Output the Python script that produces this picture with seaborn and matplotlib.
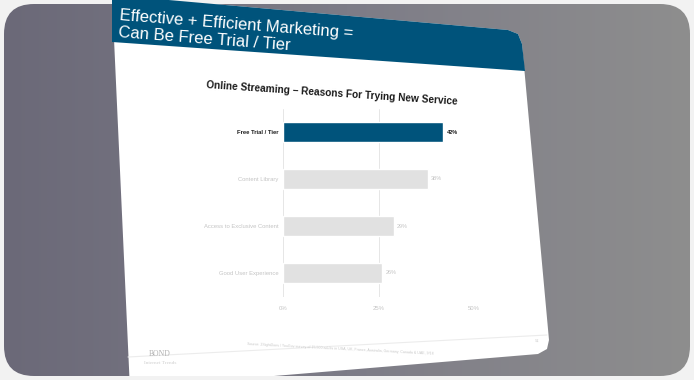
import numpy as np
import pandas as pd
import matplotlib
matplotlib.use("Agg")
import matplotlib.pyplot as plt
from matplotlib.patches import Polygon, FancyBboxPatch
from matplotlib.colors import LinearSegmentedColormap
import seaborn as sns

sns.set_style("white")
plt.rcParams['font.family'] = ['Liberation Sans', 'DejaVu Sans']

# data
reasons = ["Free Trial / Tier", "Content Library", "Access to Exclusive Content", "Good User Experience"]
shares = [42, 38, 29, 26]
value_labels = ["42%", "38%", "29%", "26%"]
x_ticks = [0, 25, 50]
x_tick_labels = ["0%", "25%", "50%"]

header_lines = "Effective + Efficient Marketing =\nCan Be Free Trial / Tier"
chart_title = "Online Streaming \u2013 Reasons For Trying New Service"
source = ("Source: 2SightDoes / YouGov survey of 15,500 adults in USA, UK, France, "
          "Australia, Germany, Canada & UAE, 9/18")

navy = "#00537b"
light_bar = "#e1e1e1"
faint_text = "#c4c4c4"

fig = plt.figure(figsize=(6.94, 3.8), dpi=100)
fig.patch.set_facecolor("#f2f2f2")

# background layer in pixel coordinates
bg = fig.add_axes([0, 0, 1, 1])
bg.set_xlim(0, 694)
bg.set_ylim(380, 0)
bg.axis("off")

grad = np.linspace(0, 1, 300)[None, :] * np.ones((50, 1))
cmap = LinearSegmentedColormap.from_list("bgc", ["#6b6978", "#7d7c87", "#8e8e8e"])
im = bg.imshow(grad, extent=[0, 694, 380, 0], cmap=cmap, aspect="auto", zorder=0)
frame = FancyBboxPatch((4, 4), 686, 372, boxstyle="round,pad=0,rounding_size=30",
                       transform=bg.transData, facecolor="none", edgecolor="none")
bg.add_patch(frame)
im.set_clip_path(frame)

# slide (slightly skewed sheet)
slide_pts = [(112, -5), (508, 30), (518, 34), (522, 44), (549, 340), (547, 349),
             (538, 354), (250, 378), (130, 390)]
slide = Polygon(slide_pts, closed=True, facecolor="white", edgecolor="none", zorder=1)
bg.add_patch(slide)
slide.set_clip_path(frame)

header_pts = [(112, -5), (508, 30), (518, 34), (522, 44), (525, 71), (112, 42)]
bg.add_patch(Polygon(header_pts, closed=True, facecolor=navy, edgecolor="none", zorder=2))

bg.text(119, 24, header_lines, color="white", fontsize=12, rotation=-4.4,
        rotation_mode="anchor", ha="left", va="center", linespacing=1.2, zorder=3)
bg.text(332, 93, chart_title, color="#1a1a1a", fontsize=7.3, fontweight="bold",
        rotation=-3.8, rotation_mode="anchor", ha="center", va="center", zorder=3)

bg.plot([128, 547], [357, 335], color="#ececec", lw=0.8, zorder=3)
bg.text(340, 349, source, color="#c8c8c8", fontsize=2.6, rotation=-3.0,
        rotation_mode="anchor", ha="center", va="center", zorder=3)
bg.text(537, 341, "51", color="#c8c8c8", fontsize=3, rotation=-3,
        ha="center", va="center", zorder=3)
bg.text(160, 354, "BOND", color="#b0b0b0", fontsize=5.5, family="Liberation Serif",
        ha="center", va="center", zorder=3)
bg.text(160, 363, "Internet Trends", color="#cfcfcf", fontsize=3.8,
        family="Liberation Serif", ha="center", va="center", zorder=3)

# bar chart
df = pd.DataFrame({"reason": reasons, "share": shares})
ax = fig.add_axes([283 / 694, 1 - 296.5 / 380, 191 / 694, 188 / 380])
ax.patch.set_alpha(0)
sns.barplot(data=df, x="share", y="reason", hue="reason",
            palette=[navy, light_bar, light_bar, light_bar], saturation=1,
            legend=False, width=0.42, ax=ax, zorder=2)
ax.set_xlim(0, 50)
ax.set_xticks(x_ticks)
ax.set_xticklabels(x_tick_labels, fontsize=4.3, color=faint_text)
ax.tick_params(axis="x", length=0, pad=7)
ax.tick_params(axis="y", length=0, pad=3)
ax.set_xlabel("")
ax.set_ylabel("")
for spine in ax.spines.values():
    spine.set_visible(False)
ax.grid(axis="x", color="#e6e6e6", lw=0.7, zorder=0)
ax.set_axisbelow(True)

for i, lab in enumerate(ax.get_yticklabels()):
    lab.set_fontsize(4.2)
    if i == 0:
        lab.set_color("#1a1a1a")
        lab.set_fontweight("bold")
    else:
        lab.set_color(faint_text)

for i, (v, t) in enumerate(zip(shares, value_labels)):
    ax.text(v + 0.8, i, t, fontsize=4, va="center", ha="left",
            color="#1a1a1a" if i == 0 else faint_text,
            fontweight="bold" if i == 0 else "normal")

fig.savefig("out.png", dpi=100, facecolor=fig.get_facecolor())
